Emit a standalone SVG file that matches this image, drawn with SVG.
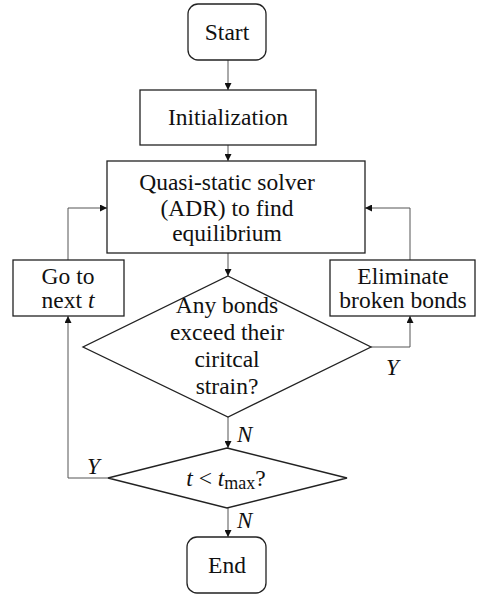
<svg xmlns="http://www.w3.org/2000/svg" width="480" height="594" viewBox="0 0 480 594">
<defs>
<marker id="ah" viewBox="0 0 10 10" refX="10" refY="5" markerWidth="7" markerHeight="7" orient="auto" markerUnits="userSpaceOnUse"><path d="M0,0 L10,5 L0,10 z" fill="#111"/></marker>
<style>
.n{fill:#fff;stroke:#222;stroke-width:1.3}
.t{font-size:23.5px;fill:#111;text-anchor:middle}
.i{font-style:italic;font-size:23px;fill:#111}
.c{fill:none;stroke:#555;stroke-width:1}
</style>
</defs>
<rect width="480" height="594" fill="#fff"/>
<g id="connectors" font-family="'Liberation Serif', 'Times New Roman', serif">
<path class="c" d="M228,60 V90" marker-end="url(#ah)"/>
<path class="c" d="M228,145 V161" marker-end="url(#ah)"/>
<path class="c" d="M228,253 V276" marker-end="url(#ah)"/>
<path class="c" d="M68,260 V208 H107" marker-end="url(#ah)"/>
<path class="c" d="M410,260 V208 H365" marker-end="url(#ah)"/>
<path class="c" d="M371,347 H410 V316" marker-end="url(#ah)"/>
<path class="c" d="M228,417 V448" marker-end="url(#ah)"/>
<path class="c" d="M108,478 H68 V316" marker-end="url(#ah)"/>
<path class="c" d="M228,508 V537" marker-end="url(#ah)"/>
<text class="i" x="386" y="375">Y</text>
<text class="i" x="237" y="442">N</text>
<text class="i" x="237" y="528">N</text>
<text class="i" x="87" y="474">Y</text>
</g>
<g font-family="'Liberation Serif', 'Times New Roman', serif">
<g id="start">
<rect class="n" x="188" y="4" width="78" height="56" rx="10"/>
<text class="t" x="227" y="40">Start</text>
</g>
<g id="init">
<rect class="n" x="140" y="90" width="176" height="55"/>
<text class="t" x="228" y="125">Initialization</text>
</g>
<g id="solver">
<rect class="n" x="107" y="161" width="258" height="92"/>
<text class="t" x="227" y="190">Quasi-static solver</text>
<text class="t" x="227" y="216">(ADR) to find</text>
<text class="t" x="227" y="241">equilibrium</text>
</g>
<g id="goto">
<rect class="n" x="13" y="260" width="111" height="56"/>
<text class="t" x="68" y="284">Go to</text>
<text class="t" x="68" y="308">next <tspan font-style="italic">t</tspan></text>
</g>
<g id="eliminate">
<rect class="n" x="330" y="260" width="145" height="56"/>
<text class="t" x="403" y="284">Eliminate</text>
<text class="t" x="403" y="308">broken bonds</text>
</g>
<g id="check">
<polygon class="n" points="228,276 371,347 228,417 83,347"/>
<text class="t" x="227" y="313">Any bonds</text>
<text class="t" x="227" y="340">exceed their</text>
<text class="t" x="227" y="367">ciritcal</text>
<text class="t" x="227" y="394">strain?</text>
</g>
<g id="tcheck">
<polygon class="n" points="227,448 347,478 227,508 108,478"/>
<text class="t" x="226" y="486"><tspan font-style="italic">t</tspan> &lt; <tspan font-style="italic">t</tspan><tspan font-size="18" dy="3">max</tspan><tspan dy="-3">?</tspan></text>
</g>
<g id="end">
<rect class="n" x="187" y="537" width="79" height="56" rx="10"/>
<text class="t" x="227" y="573">End</text>
</g>
</g>
</svg>
